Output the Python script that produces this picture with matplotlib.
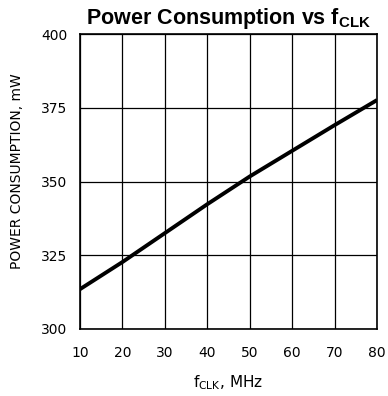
import matplotlib
matplotlib.use("Agg")
import matplotlib.pyplot as plt

plt.rcParams["mathtext.fontset"] = "custom"
plt.rcParams["mathtext.rm"] = "DejaVu Sans"
plt.rcParams["mathtext.bf"] = "Liberation Sans:bold"

# power draw vs clock frequency
f_clk = [10, 20, 30, 40, 50, 60, 70, 80]
power_mw = [313.5, 322.7, 332.5, 342.3, 351.7, 360.4, 369.1, 377.6]

x_ticks = [10, 20, 30, 40, 50, 60, 70, 80]
y_ticks = [300, 325, 350, 375, 400]

fig = plt.figure(figsize=(3.88, 3.96), dpi=100)
ax = fig.add_axes([80 / 388, 67 / 396, 297 / 388, 295 / 396])

ax.plot(f_clk, power_mw, color="black", lw=2.8, solid_capstyle="butt")

ax.set_xlim(10, 80)
ax.set_ylim(300, 400)
ax.set_xticks(x_ticks)
ax.set_yticks(y_ticks)
ax.grid(True, color="black", lw=0.9)
ax.set_axisbelow(True)
ax.tick_params(length=0, labelsize=10, colors="black")
ax.tick_params(axis="x", pad=12)
ax.tick_params(axis="y", pad=9)
for s in ax.spines.values():
    s.set_linewidth(1.2)

ax.set_xlabel(r"f$_{\mathrm{CLK}}$, MHz", fontsize=11, labelpad=10)
ax.set_ylabel("POWER CONSUMPTION, mW", fontsize=10)
ax.yaxis.set_label_coords(-0.19, 0.535)
ax.set_title(r"Power Consumption vs f$_{\mathbf{CLK}}$", fontsize=15.5,
             fontweight="bold", family="Liberation Sans", pad=7)

fig.savefig("out.png", dpi=100)
